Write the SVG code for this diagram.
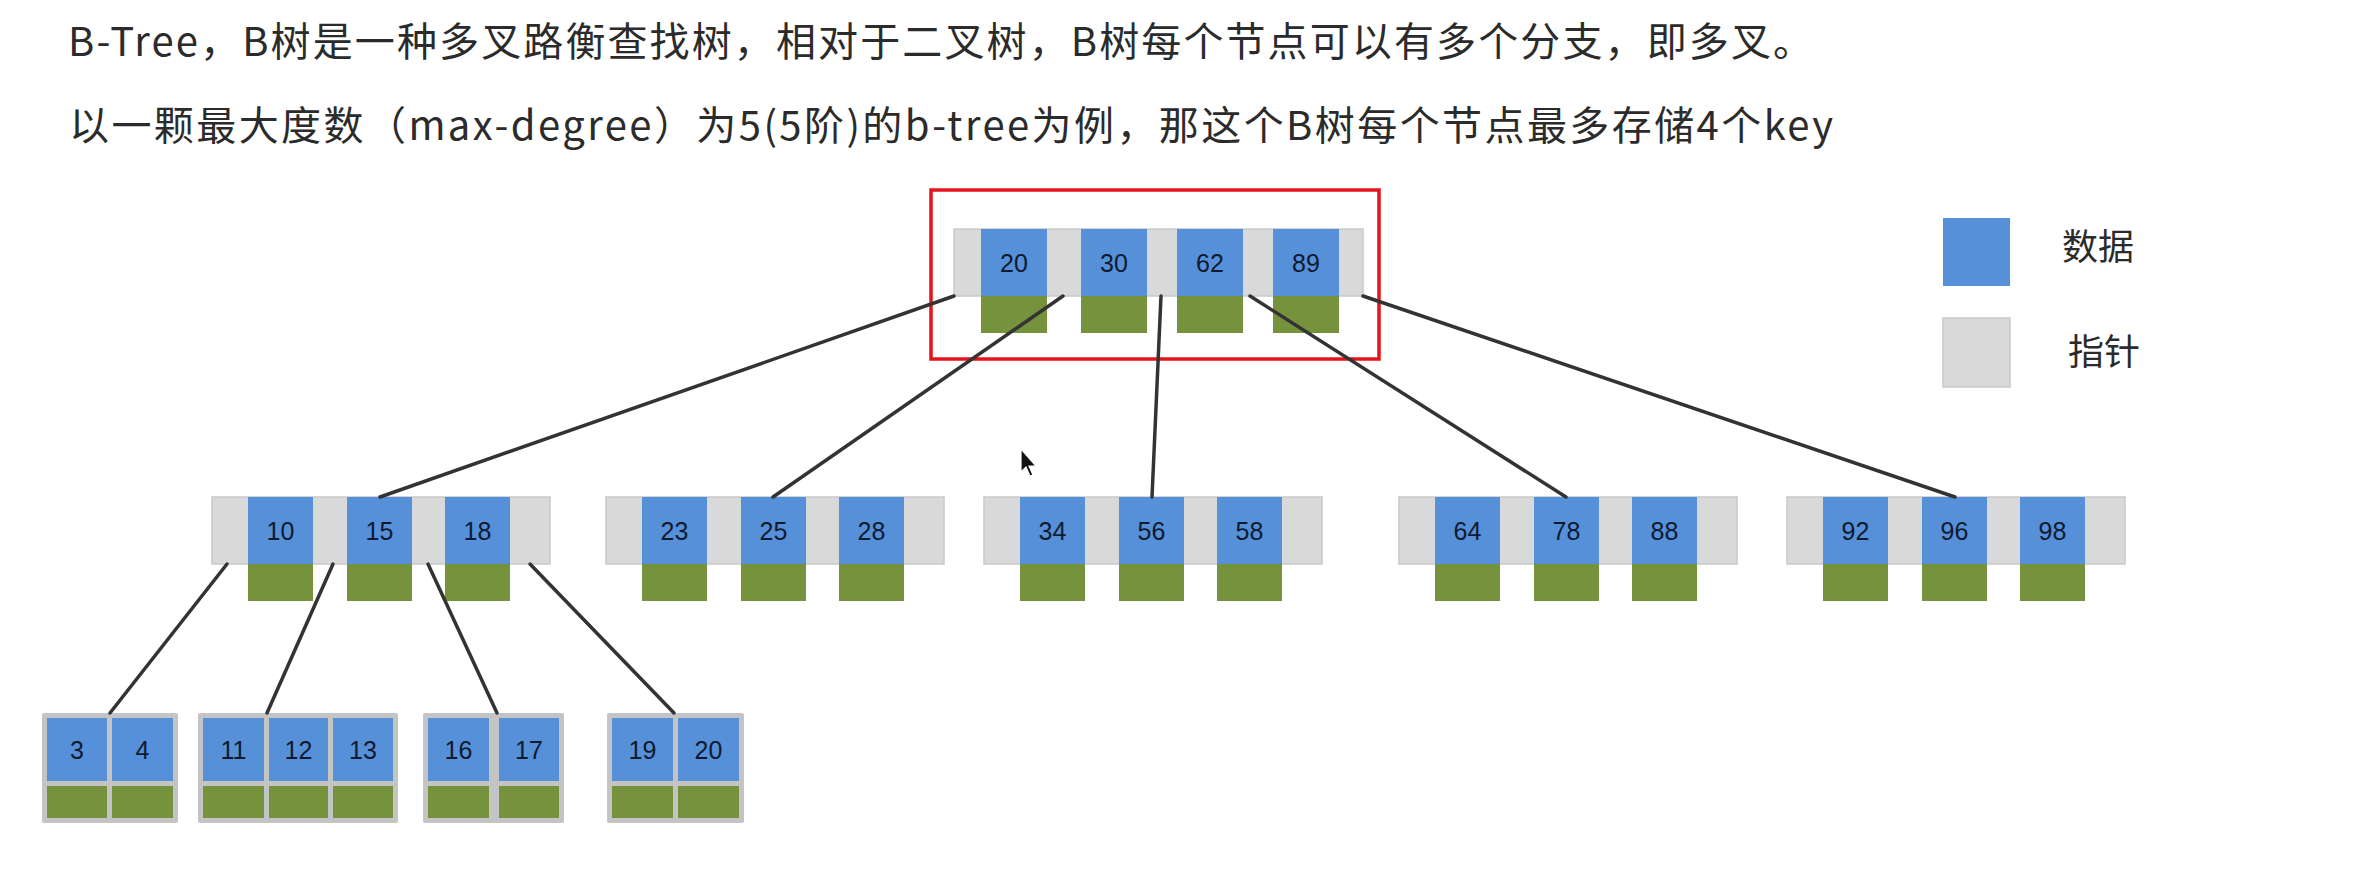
<svg xmlns="http://www.w3.org/2000/svg" width="2369" height="877" viewBox="0 0 2369 877">
<style>
.title{font-family:"Noto Sans CJK SC","Microsoft YaHei",sans-serif;font-size:40px;fill:#2b2b2b}
.leg{font-family:"Noto Sans CJK SC",sans-serif;font-size:36px;fill:#2b2b2b}
.k{font-family:"Liberation Sans",Arial,sans-serif;font-size:25px;fill:#0f1a30;text-anchor:middle}
.bar{fill:#d9d9d9;stroke:#c9c9c9;stroke-width:1.5}
.blue{fill:#5590d8}
.green{fill:#76923c}
.leaf{fill:#c4c4c4}
.conn line{stroke:#333;stroke-width:3.5;stroke-linecap:round}
</style>
<rect width="2369" height="877" fill="#fff"/>
<text class="title" x="68" y="56" textLength="1745" lengthAdjust="spacing">B-Tree，B树是一种多叉路衡查找树，相对于二叉树，B树每个节点可以有多个分支，即多叉。</text>
<text class="title" x="69" y="140" textLength="1764" lengthAdjust="spacing">以一颗最大度数（max-degree）为5(5阶)的b-tree为例，那这个B树每个节点最多存储4个key</text>

<g id="legend">
<rect class="blue" x="1943" y="218" width="67" height="68"/>
<text class="leg" x="2062" y="260">数据</text>
<rect class="bar" x="1943" y="318" width="67" height="69"/>
<text class="leg" x="2068" y="365">指针</text>
</g>

<g id="root">
<rect x="931" y="190" width="448" height="169" fill="none" stroke="#e3141c" stroke-width="3.5"/>
<rect class="bar" x="954" y="229" width="409" height="67"/>
<rect class="blue" x="981" y="229" width="66" height="67"/>
<rect class="blue" x="1081" y="229" width="66" height="67"/>
<rect class="blue" x="1177" y="229" width="66" height="67"/>
<rect class="blue" x="1273" y="229" width="66" height="67"/>
<rect class="green" x="981" y="296" width="66" height="37"/>
<rect class="green" x="1081" y="296" width="66" height="37"/>
<rect class="green" x="1177" y="296" width="66" height="37"/>
<rect class="green" x="1273" y="296" width="66" height="37"/>
<text class="k" x="1014" y="271.5">20</text>
<text class="k" x="1114" y="271.5">30</text>
<text class="k" x="1210" y="271.5">62</text>
<text class="k" x="1306" y="271.5">89</text>
</g>

<g id="n1">
<rect class="bar" x="212" y="497" width="338" height="67"/>
<rect class="blue" x="248" y="497" width="65" height="67"/><rect class="blue" x="347" y="497" width="65" height="67"/><rect class="blue" x="445" y="497" width="65" height="67"/>
<rect class="green" x="248" y="564" width="65" height="37"/><rect class="green" x="347" y="564" width="65" height="37"/><rect class="green" x="445" y="564" width="65" height="37"/>
<text class="k" x="280.5" y="539.5">10</text><text class="k" x="379.5" y="539.5">15</text><text class="k" x="477.5" y="539.5">18</text>
</g>
<g id="n2">
<rect class="bar" x="606" y="497" width="338" height="67"/>
<rect class="blue" x="642" y="497" width="65" height="67"/><rect class="blue" x="741" y="497" width="65" height="67"/><rect class="blue" x="839" y="497" width="65" height="67"/>
<rect class="green" x="642" y="564" width="65" height="37"/><rect class="green" x="741" y="564" width="65" height="37"/><rect class="green" x="839" y="564" width="65" height="37"/>
<text class="k" x="674.5" y="539.5">23</text><text class="k" x="773.5" y="539.5">25</text><text class="k" x="871.5" y="539.5">28</text>
</g>
<g id="n3">
<rect class="bar" x="984" y="497" width="338" height="67"/>
<rect class="blue" x="1020" y="497" width="65" height="67"/><rect class="blue" x="1119" y="497" width="65" height="67"/><rect class="blue" x="1217" y="497" width="65" height="67"/>
<rect class="green" x="1020" y="564" width="65" height="37"/><rect class="green" x="1119" y="564" width="65" height="37"/><rect class="green" x="1217" y="564" width="65" height="37"/>
<text class="k" x="1052.5" y="539.5">34</text><text class="k" x="1151.5" y="539.5">56</text><text class="k" x="1249.5" y="539.5">58</text>
</g>
<g id="n4">
<rect class="bar" x="1399" y="497" width="338" height="67"/>
<rect class="blue" x="1435" y="497" width="65" height="67"/><rect class="blue" x="1534" y="497" width="65" height="67"/><rect class="blue" x="1632" y="497" width="65" height="67"/>
<rect class="green" x="1435" y="564" width="65" height="37"/><rect class="green" x="1534" y="564" width="65" height="37"/><rect class="green" x="1632" y="564" width="65" height="37"/>
<text class="k" x="1467.5" y="539.5">64</text><text class="k" x="1566.5" y="539.5">78</text><text class="k" x="1664.5" y="539.5">88</text>
</g>
<g id="n5">
<rect class="bar" x="1787" y="497" width="338" height="67"/>
<rect class="blue" x="1823" y="497" width="65" height="67"/><rect class="blue" x="1922" y="497" width="65" height="67"/><rect class="blue" x="2020" y="497" width="65" height="67"/>
<rect class="green" x="1823" y="564" width="65" height="37"/><rect class="green" x="1922" y="564" width="65" height="37"/><rect class="green" x="2020" y="564" width="65" height="37"/>
<text class="k" x="1855.5" y="539.5">92</text><text class="k" x="1954.5" y="539.5">96</text><text class="k" x="2052.5" y="539.5">98</text>
</g>

<g id="leaf1">
<rect class="leaf" x="42" y="713" width="136" height="110" rx="2"/>
<rect class="blue" x="47" y="718" width="60" height="63"/><rect class="blue" x="112" y="718" width="61" height="63"/>
<rect class="green" x="47" y="786" width="60" height="32"/><rect class="green" x="112" y="786" width="61" height="32"/>
<text class="k" x="77" y="758.5">3</text><text class="k" x="142.5" y="758.5">4</text>
</g>
<g id="leaf2">
<rect class="leaf" x="198" y="713" width="200" height="110" rx="2"/>
<rect class="blue" x="203" y="718" width="61" height="63"/><rect class="blue" x="269" y="718" width="59" height="63"/><rect class="blue" x="333" y="718" width="60" height="63"/>
<rect class="green" x="203" y="786" width="61" height="32"/><rect class="green" x="269" y="786" width="59" height="32"/><rect class="green" x="333" y="786" width="60" height="32"/>
<text class="k" x="233.5" y="758.5">11</text><text class="k" x="298.5" y="758.5">12</text><text class="k" x="363" y="758.5">13</text>
</g>
<g id="leaf3">
<rect class="leaf" x="423" y="713" width="141" height="110" rx="2"/>
<rect class="blue" x="428" y="718" width="61" height="63"/><rect class="blue" x="499" y="718" width="60" height="63"/>
<rect class="green" x="428" y="786" width="61" height="32"/><rect class="green" x="499" y="786" width="60" height="32"/>
<text class="k" x="458.5" y="758.5">16</text><text class="k" x="529" y="758.5">17</text>
</g>
<g id="leaf4">
<rect class="leaf" x="607" y="713" width="137" height="110" rx="2"/>
<rect class="blue" x="612" y="718" width="61" height="63"/><rect class="blue" x="678" y="718" width="61" height="63"/>
<rect class="green" x="612" y="786" width="61" height="32"/><rect class="green" x="678" y="786" width="61" height="32"/>
<text class="k" x="642.5" y="758.5">19</text><text class="k" x="708.5" y="758.5">20</text>
</g>

<g id="connectors" class="conn">
<line x1="954" y1="296" x2="380" y2="497"/>
<line x1="1063" y1="296" x2="773" y2="497"/>
<line x1="1161" y1="296" x2="1152" y2="497"/>
<line x1="1250" y1="296" x2="1566" y2="497"/>
<line x1="1363" y1="296" x2="1955" y2="497"/>
<line x1="227" y1="564" x2="110" y2="713"/>
<line x1="333" y1="564" x2="267" y2="713"/>
<line x1="428" y1="564" x2="497" y2="713"/>
<line x1="530" y1="564" x2="674" y2="713"/>
</g>

<g id="cursor">
<path d="M1021,449 L1021,472 L1026,467 L1030,476 L1033,475 L1029,466 L1036,466 Z" fill="#111" stroke="#fff" stroke-width="1.2"/>
</g>
</svg>
